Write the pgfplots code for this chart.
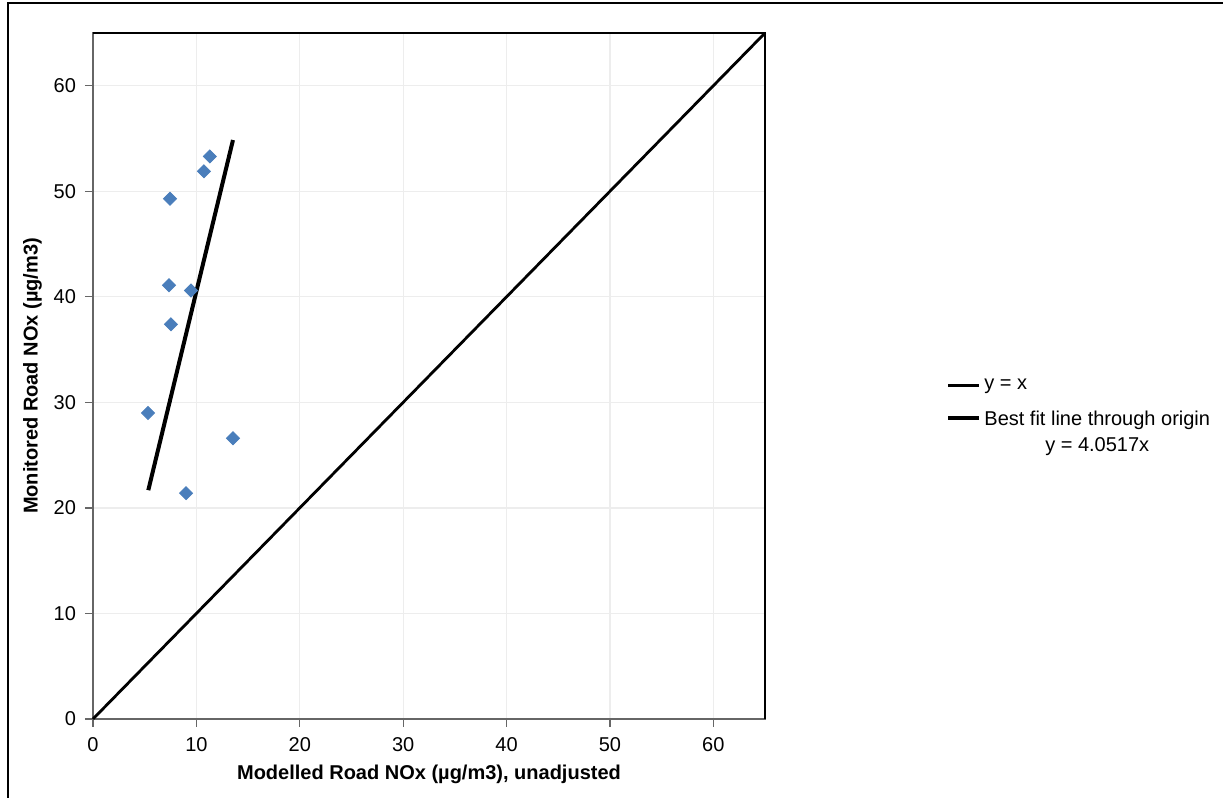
\documentclass[border=0pt]{standalone}
\usepackage{pgfplots}
\pgfplotsset{compat=1.18}
\usepackage{fontspec}
\setmainfont{Liberation Sans}
\definecolor{ptblue}{RGB}{74,126,187}
\begin{document}
\begin{tikzpicture}[x=1pt,y=1pt]
\useasboundingbox (0,0) rectangle (611.5,399);
\draw[line width=0.8pt] (4,-2) -- (4,397.5) -- (613,397.5);
\begin{axis}[
  at={(46.5pt,39.5pt)}, anchor=south west,
  scale only axis, width=336pt, height=343pt,
  xmin=0, xmax=65, ymin=0, ymax=65,
  xtick={0,10,...,60}, ytick={0,10,...,60},
  grid=major, major grid style={gray!14, line width=0.6pt},
  axis line style={gray!80!black, line width=0.6pt},
  tick style={gray!80!black, line width=0.6pt},
  tick align=outside, major tick length=4pt,
  xtick pos=bottom, ytick pos=left,
  tick label style={font=\fontsize{10}{12}\selectfont},
  xticklabel style={yshift=-1.5pt},
  yticklabel style={xshift=-1pt},
  /pgf/number format/assume math mode=true,
  xlabel={\bfseries Modelled Road NOx (µg/m3), unadjusted},
  ylabel={\bfseries Monitored Road NOx (µg/m3)},
  label style={font=\fontsize{10}{12}\selectfont},
  xlabel style={yshift=0pt},
  ylabel style={yshift=-1pt},
  legend style={at={(1.26,0.508)}, anchor=north west, draw=none, fill=none,
    font=\fontsize{10}{12}\selectfont, nodes={inner xsep=1.5pt}, row sep=4pt},
  legend cell align=left,
  legend image code/.code={\draw[#1] (0cm,0cm) -- (0.55cm,0cm);},
  clip=false,
]
\addplot[only marks, mark=square*, mark size=2.3pt, mark options={rotate=45, fill=ptblue, draw=ptblue}, forget plot] coordinates {
(7.45,49.3) (10.73,51.9) (11.3,53.3) (7.35,41.1) (9.48,40.6) (7.54,37.4) (5.32,29.0) (13.54,26.6) (9.0,21.4)
};
\addplot[black, line width=1.4pt, mark=none] coordinates {(0,0) (65,65)};
\addlegendentry{y = x}
\addplot[black, line width=2pt, mark=none] coordinates {(5.35,21.68) (13.54,54.86)};
\addlegendentry{\begin{tabular}[t]{@{}c@{}}Best fit line through origin\\[1pt]y = 4.0517x\end{tabular}}
\draw[black, line width=0.6pt] (rel axis cs:0,1) -- (rel axis cs:1,1) -- (rel axis cs:1,0);
\end{axis}
\end{tikzpicture}
\end{document}
